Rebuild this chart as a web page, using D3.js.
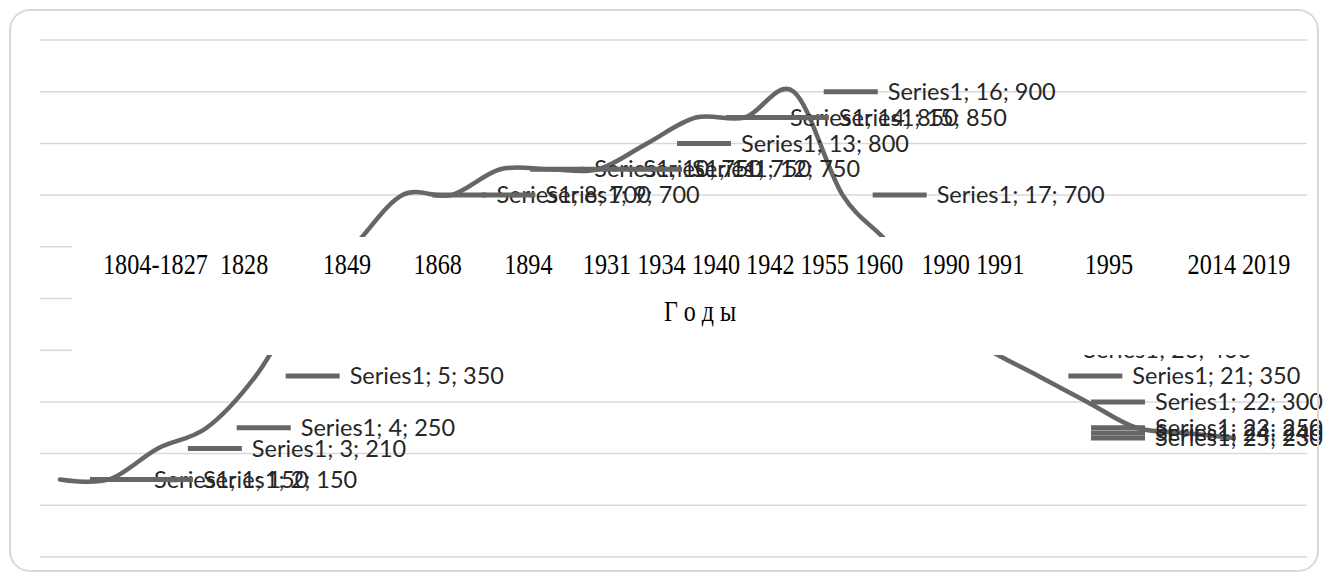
<!DOCTYPE html>
<html>
<head>
<meta charset="utf-8">
<script src="https://cdn.jsdelivr.net/npm/d3@7"></script>
<style>
  html, body { margin: 0; padding: 0; background: #fff; }
  svg { display: block; }
</style>
</head>
<body>
<svg id="chart" width="1327" height="580"></svg>
<script>
// ---- data ----
const seriesName = "Series1";
const categories = d3.range(1, 26);
const values = [150, 150, 210, 250, 350, 500, 600, 700, 700, 750, 750, 750, 800, 850, 850, 900, 700, 600, 460, 400, 350, 300, 250, 240, 230];
const yTicks = [0, 100, 200, 300, 400, 500, 600, 700, 800, 900, 1000];
const yearLabels = ["1804-1827", "1828", "1849", "1868", "1894", "1931", "1934", "1940", "1942", "1955", "1960", "1990", "1991", "1995", "2014", "2019"];
const yearSpaces = [2, 9, 7, 7, 5, 1, 1, 1, 1, 1, 3, 1, 10, 9, 1];
const axisTitle = "Г о д ы";

// ---- layout ----
const W = 1327, H = 580;
const svg = d3.select("#chart");
const x = d3.scaleLinear().domain([1, 25]).range([60, 1234]);
const y = d3.scaleLinear().domain([0, 1000]).range([557, 40]);
const gridX0 = 40, gridX1 = 1307;
const lineColor = "#666666";

// gridlines
svg.append("g").selectAll("line").data(yTicks).join("line")
  .attr("x1", gridX0).attr("x2", gridX1)
  .attr("y1", d => y(d)).attr("y2", d => y(d))
  .attr("stroke", "#d9d9d9").attr("stroke-width", 1.5);

// smoothed line
const pts = categories.map((c, i) => ({ c, v: values[i] }));
const line = d3.line().x(d => x(d.c)).y(d => y(d.v)).curve(d3.curveCardinal.tension(0));
svg.append("path").datum(pts)
  .attr("d", line).attr("fill", "none")
  .attr("stroke", lineColor).attr("stroke-width", 4.5)
  .attr("stroke-linecap", "round").attr("stroke-linejoin", "round");

// data labels with legend key
const labG = svg.append("g");
const rightLimit = 1323;
pts.forEach(d => {
  const px = x(d.c), py = y(d.v);
  const g = labG.append("g");
  const t = g.append("text")
    .attr("font-family", "Lato, 'Liberation Sans', sans-serif")
    .attr("font-size", 23.5)
    .attr("fill", "#262626")
    .attr("y", py).attr("dy", "0.35em")
    .text(`${seriesName}; ${d.c}; ${d.v}`);
  const tw = t.node().getComputedTextLength();
  let tx = px + 94;
  if (tx + tw > rightLimit) tx = rightLimit - tw;
  t.attr("x", tx);
  g.insert("line", "text")
    .attr("x1", tx - 64).attr("x2", tx - 10)
    .attr("y1", py).attr("y2", py)
    .attr("stroke", lineColor).attr("stroke-width", 5);
});

// white band behind axis labels
svg.append("rect")
  .attr("x", 72).attr("y", 237).attr("width", 1247).attr("height", 118)
  .attr("fill", "#fff");

// year labels (single text line), slightly stretched vertically
let yearText = "";
yearLabels.forEach((s, i) => {
  yearText += s + (i < yearSpaces.length ? " ".repeat(yearSpaces[i]) : "");
});
svg.append("text")
  .attr("transform", "translate(103,274) scale(1,1.22)")
  .attr("xml:space", "preserve")
  .style("white-space", "pre")
  .attr("font-family", "'Liberation Serif', 'Times New Roman', serif")
  .attr("font-size", 24.2)
  .attr("fill", "#000")
  .text(yearText);

// axis title
svg.append("text")
  .attr("transform", "translate(700,321) scale(1,1.2)")
  .attr("text-anchor", "middle")
  .attr("font-family", "'Liberation Serif', 'Times New Roman', serif")
  .attr("font-size", 24)
  .attr("fill", "#000")
  .text(axisTitle);

// chart border
svg.append("rect")
  .attr("x", 10).attr("y", 10).attr("width", 1308).attr("height", 561)
  .attr("rx", 20).attr("ry", 20)
  .attr("fill", "none").attr("stroke", "#d9d9d9").attr("stroke-width", 2);
</script>
</body>
</html>
